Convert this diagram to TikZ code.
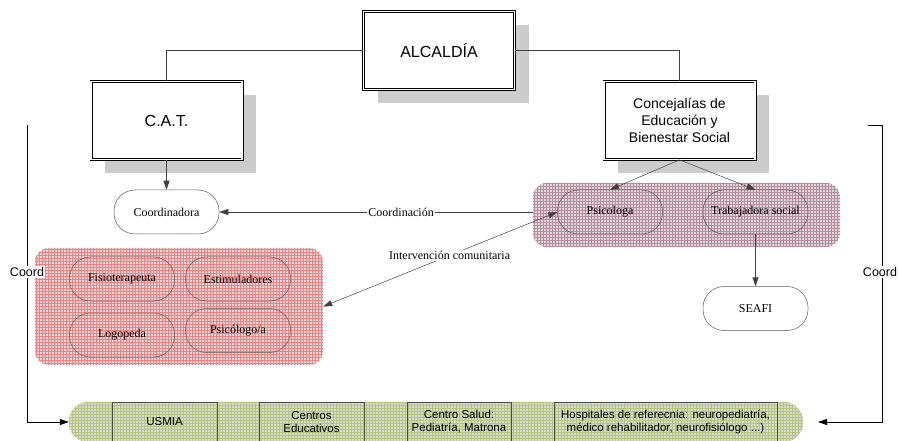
\documentclass[tikz,border=0pt]{standalone}
\usepackage{fontspec}
\setmainfont{Liberation Serif}
\newfontfamily\arialf{Liberation Sans}
\usetikzlibrary{arrows.meta,patterns,shadows}
\definecolor{mauveline}{RGB}{140,60,95}
\definecolor{oliveline}{RGB}{140,165,45}
\definecolor{redline}{RGB}{235,50,50}
\begin{document}
\begin{tikzpicture}[x=1pt,y=-1pt,
  mainbox/.style={draw=black, double=white, double distance=1.6pt, line width=0.7pt,
    fill=white, minimum width=151pt, minimum height=78pt, inner sep=2pt, align=center,
    drop shadow={shadow xshift=14pt, shadow yshift=-14pt, fill=black!20, opacity=1},
    font=\arialf\fontsize{16}{19}\selectfont},
  pill/.style={draw=black!65, line width=0.5pt, rounded corners=21pt,
    minimum width=105pt, minimum height=44pt, inner sep=1pt,
    font=\fontsize{12}{14}\selectfont},
  solopill/.style={pill, fill=white},
  grp/.style={draw=none, inner sep=0pt, preaction={fill=#1}, pattern=grid},
  botbox/.style={draw=black!70, line width=0.5pt, minimum height=40pt, inner sep=1pt,
    align=center, font=\arialf\fontsize{11.5}{13}\selectfont},
  conn/.style={draw=black!75, line width=0.5pt},
  tip/.style={-{Triangle[length=9pt,width=6pt]}},
  lbl/.style={fill=white, inner sep=1pt, font=\fontsize{12}{14}\selectfont},
  coordlbl/.style={fill=white, inner sep=1pt, font=\arialf\fontsize{12.5}{14}\selectfont},
  coordline/.style={draw=black, line width=0.8pt}
]
\useasboundingbox (0,0) rectangle (898,441);

% groups (backgrounds)
\node[grp=black!14, pattern color=redline!62!white, rounded corners=14pt, minimum width=288pt, minimum height=117pt] (lgroup) at (179,306.5) {};
\node[grp=black!15, pattern color=mauveline!60!white, rounded corners=14pt, minimum width=307pt, minimum height=64pt] (pgroup) at (686.5,215) {};
\node[grp=black!15, pattern color=oliveline!65!white, rounded corners=19pt, minimum width=734pt, minimum height=40pt] (green) at (436,422) {};

% main boxes
\node[mainbox] (alc) at (439,50.5) {ALCALDÍA};
\node[mainbox] (cat) at (166.5,120.5) {C.A.T.};
\node[mainbox, font=\arialf\fontsize{14}{17}\selectfont] (conc) at (679.5,120.5) {Concejalías de\\Educación y\\Bienestar Social};

% pills
\node[solopill] (coordn) at (166.5,212) {Coordinadora};
\node[pill] (psic) at (610,212) {Psicologa};
\node[pill] (trab) at (755.5,212) {Trabajadora social};
\node[solopill] (seafi) at (755.5,308.5) {SEAFI};
\node[pill] (fisio) at (122,279) {Fisioterapeuta};
\node[pill] (estim) at (238,279) {Estimuladores};
\node[pill] (logo) at (122,335) {Logopeda};
\node[pill] (psico) at (238,330.5) {Psicólogo/a};

% bottom boxes
\node[botbox, minimum width=105pt] (usmia) at (164.5,422) {USMIA};
\node[botbox, minimum width=105pt] (ceduc) at (311.5,422) {Centros\\Educativos};
\node[botbox, minimum width=104pt] (csalud) at (459,422) {Centro Salud:\\Pediatría, Matrona};
\node[botbox, minimum width=223pt] (hosp) at (665.5,422) {Hospitales de referecnia: neuropediatría,\\médico rehabilitador, neurofisiólogo ...)};

% connectors
\draw[conn] (alc.west) -| (cat.north);
\draw[conn] (alc.east) -| (conc.north);
\draw[conn, tip] (cat.south) -- (coordn.north);
\draw[conn, tip] (conc.south) -- (psic.north);
\draw[conn, tip] (conc.south) -- (trab.north);
\draw[conn, tip] (trab.south) -- (seafi.north);
\draw[conn, tip] (pgroup.west |- coordn.east) -- node[lbl, pos=0.42] (lcoord) {Coordinación} (coordn.east);
\draw[conn, {Triangle[length=9pt,width=6pt]}-{Triangle[length=9pt,width=6pt]}] (lgroup.east) -- node[lbl, pos=0.54] (linter) {Intervención comunitaria} (psic.west);

% coord lines
\coordinate (ltop) at (27,125);
\coordinate (rtop) at (868,125);
\coordinate (rcorner) at (882,125);
\coordinate (rend) at (818,422);
\draw[coordline, tip] (ltop) |- (green.west);
\node[coordlbl] (lcoordlbl) at (27,272) {Coord};
\draw[coordline, tip] (rtop) -- (rcorner) |- (rend);
\node[coordlbl] (rcoordlbl) at (880,272) {Coord};
\end{tikzpicture}
\end{document}
